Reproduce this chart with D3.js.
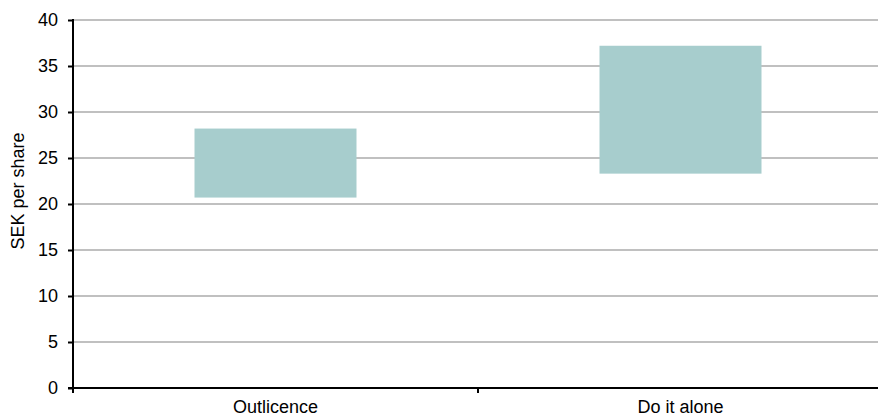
<!DOCTYPE html>
<html>
<head>
<meta charset="utf-8">
<script src="https://cdn.jsdelivr.net/npm/d3@7"></script>
<style>
  html, body { margin: 0; padding: 0; background: #fff; }
  svg { display: block; }
  text { font-family: "Liberation Sans", Arial, sans-serif; fill: #000; }
</style>
</head>
<body>
<svg id="chart" width="878" height="417"></svg>
<script>
const categories = ["Outlicence", "Do it alone"];
const lowValues = [20.7, 23.3];
const highValues = [28.2, 37.2];
const yTicks = [0, 5, 10, 15, 20, 25, 30, 35, 40];
const yLabel = "SEK per share";

const svg = d3.select("#chart");
const plotLeft = 73, plotRight = 883, plotTop = 20, plotBottom = 388;
const fontSize = 18;

const x = d3.scaleBand().domain(categories).range([plotLeft, plotRight]).paddingInner(0).paddingOuter(0);
const y = d3.scaleLinear().domain([0, 40]).range([plotBottom, plotTop]);

// gridlines
svg.append("g").selectAll("line").data(yTicks.filter(d => d > 0)).join("line")
  .attr("x1", plotLeft).attr("x2", 878)
  .attr("y1", d => y(d)).attr("y2", d => y(d))
  .attr("stroke", "#c0c0c0").attr("stroke-width", 2);

// bars
const bw = x.bandwidth() * 0.4;
svg.append("g").selectAll("rect").data(categories).join("rect")
  .attr("x", d => x(d) + (x.bandwidth() - bw) / 2)
  .attr("width", bw)
  .attr("y", (d, i) => y(highValues[i]))
  .attr("height", (d, i) => y(lowValues[i]) - y(highValues[i]))
  .attr("fill", "#a7cdcd");

// y axis
const yAxis = d3.axisLeft(y).tickValues(yTicks).tickSize(5).tickPadding(10);
const gy = svg.append("g").attr("transform", `translate(${plotLeft},0)`).call(yAxis);
gy.select(".domain").attr("stroke", "#000").attr("stroke-width", 2).attr("d", `M0,${plotTop - 1}V${plotBottom + 1}`);
gy.selectAll(".tick line").attr("stroke", "#000").attr("stroke-width", 2);
gy.selectAll(".tick text").attr("font-size", fontSize).attr("font-family", "Liberation Sans, Arial, sans-serif").attr("fill", "#000");

// x axis
const xAxis = d3.axisBottom(x).tickSize(0).tickPadding(12);
const gx = svg.append("g").attr("transform", `translate(0,${plotBottom})`).call(xAxis);
gx.select(".domain").attr("stroke", "#000").attr("stroke-width", 2).attr("d", `M${plotLeft - 5},0H878`);
gx.selectAll(".tick text").attr("font-size", fontSize).attr("font-family", "Liberation Sans, Arial, sans-serif").attr("fill", "#000");

// category boundary ticks
const boundaries = categories.map(c => x(c));
svg.append("g").selectAll("line").data(boundaries).join("line")
  .attr("x1", d => d).attr("x2", d => d)
  .attr("y1", plotBottom).attr("y2", plotBottom + 5)
  .attr("stroke", "#000").attr("stroke-width", 2);

// y label
svg.append("text")
  .attr("transform", `translate(24,${(plotTop + plotBottom) / 2 - 13}) rotate(-90)`)
  .attr("text-anchor", "middle")
  .attr("font-size", fontSize)
  .text(yLabel);
</script>
</body>
</html>
